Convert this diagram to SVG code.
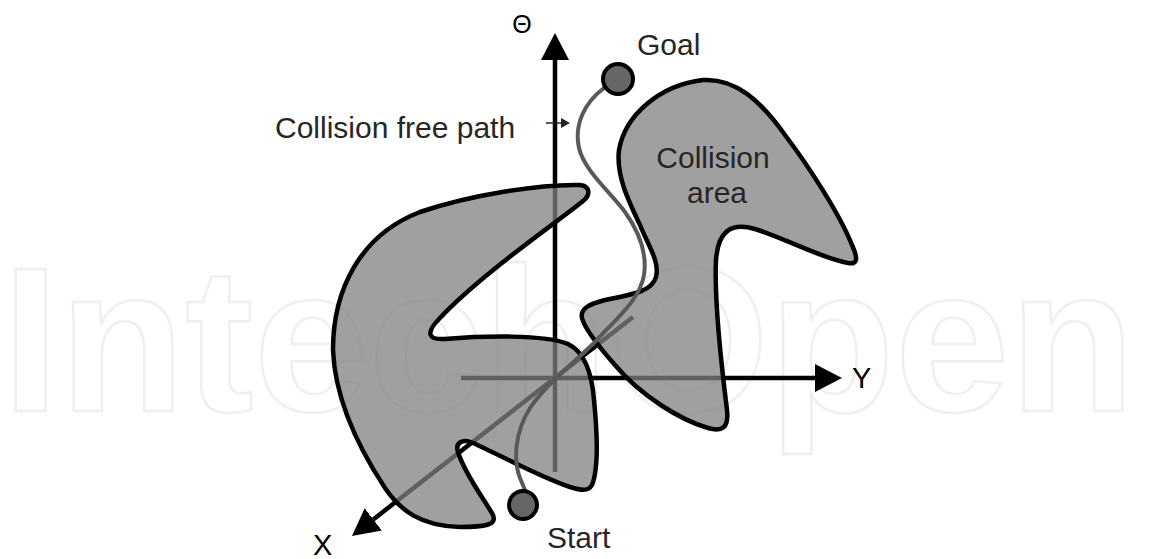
<svg xmlns="http://www.w3.org/2000/svg" width="1151" height="559" viewBox="0 0 1151 559">
  <style>
    .lbl { font-family: "Liberation Sans", Arial, sans-serif; font-size: 30px; fill: #262626; }
    .axislbl { font-family: "Liberation Sans", Arial, sans-serif; font-size: 29px; fill: #000; }
    .axis { stroke: #000; stroke-width: 4.5; fill: none; marker-end: url(#arrow); }
    .obstacle { fill: #808080; fill-opacity: 0.75; stroke: #000; stroke-width: 4.5; stroke-linejoin: round; }
    .pt { fill: #666; stroke: #000; stroke-width: 4; }
    .trajectory { fill: none; stroke: #595959; stroke-width: 4; stroke-linecap: round; }
    .wm { font-family: "Liberation Sans", Arial, sans-serif; font-size: 206px; font-weight: bold; fill: none; stroke: #efefef; stroke-width: 2.5; }
  </style>
  <defs>
    <marker id="arrow" markerUnits="userSpaceOnUse" markerWidth="28" markerHeight="28" refX="0" refY="14" orient="auto" viewBox="0 0 28 28">
      <path d="M0,0 L27,14 L0,28 Z" fill="#000"/>
    </marker>
  </defs>
  <rect width="1151" height="559" fill="#fff"/>
  <text class="wm" x="2" y="411">IntechOpen</text>

  <g id="connectors">
    <line id="axis-theta" class="axis" x1="555" y1="472" x2="555" y2="60"/>
    <line id="axis-y" class="axis" x1="461" y1="378" x2="815" y2="378"/>
    <line id="axis-x" class="axis" x1="633" y1="317" x2="373.3" y2="519.4"/>
  </g>

  <g id="obstacle-left">
    <path class="obstacle" d="M 580,185 C 590,186 591,195 583,201 C 560,220 480,275 440,318 C 425,333 428,340 445,339 C 480,336 545,334 568,344 C 585,352 592,375 594,400 C 598,440 598,470 592,485 C 588,492 580,490 570,487 C 540,477 500,455 473,443 C 462,438 455,443 458,452 C 465,475 485,500 493,515 C 497,525 485,527 460,527 C 420,526 400,510 385,488 C 360,450 335,400 333,350 C 333,290 360,235 420,212 C 470,195 540,184 580,185 Z"/>
  </g>
  <g id="obstacle-right">
    <path class="obstacle" d="M 703,80 C 735,78 760,100 785,135 C 810,168 840,215 852,245 C 858,258 858,265 848,263 C 820,258 785,238 755,229 C 730,222 718,232 716,260 C 714,300 722,370 727,410 C 729,428 722,432 708,428 C 680,420 640,395 615,365 C 600,348 585,330 582,318 C 580,308 590,304 605,300 C 630,295 652,292 656,277 C 660,262 648,245 640,225 C 628,200 616,175 619,150 C 625,115 660,85 703,80 Z"/>
    <text class="lbl" x="713" y="168" text-anchor="middle">Collision</text>
    <text class="lbl" x="717" y="203" text-anchor="middle">area</text>
  </g>

  <g id="path-free">
    <path class="trajectory" d="M 604,88 C 584,103 574,125 579,148 C 584,170 610,192 625,212 C 640,233 647,255 644,275 C 640,300 615,320 595,342 C 575,362 545,385 530,408 C 515,432 513,460 520,478 L 525,490"/>
  </g>

  <g id="goal">
    <circle class="pt" cx="618" cy="79" r="15"/>
    <text class="lbl" x="637" y="55">Goal</text>
  </g>
  <g id="start">
    <circle class="pt" cx="523" cy="505" r="14"/>
    <text class="lbl" x="547" y="548">Start</text>
  </g>

  <g id="label-path">
    <text class="lbl" x="275" y="138">Collision free path</text>
    <line x1="546" y1="123" x2="562" y2="123" stroke="#222" stroke-width="1.5"/>
    <path d="M 570,123 L 561,118 L 561,128 Z" fill="#222"/>
  </g>

  <g id="axis-labels">
    <text class="axislbl" x="522" y="33" text-anchor="middle" style="font-size:25px">Θ</text>
    <text class="axislbl" x="313" y="555">X</text>
    <text class="axislbl" x="852" y="388">Y</text>
  </g>
</svg>
